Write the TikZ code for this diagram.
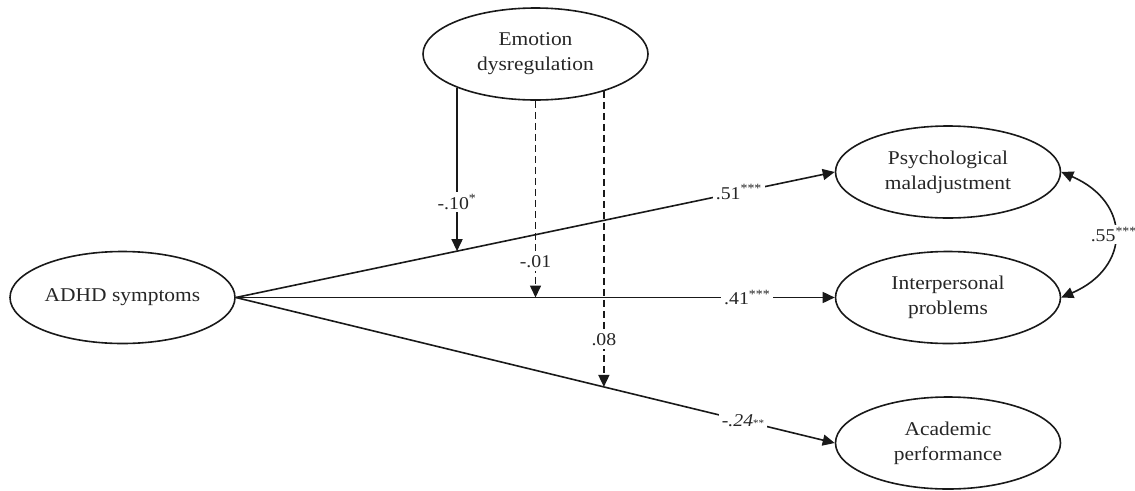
\documentclass[tikz,border=0pt]{standalone}
\usepackage{fontspec}
\setmainfont{Liberation Serif}
\usetikzlibrary{arrows.meta,calc,shapes.geometric}
\newcommand{\sx}[1]{\scalebox{1.1}[1]{#1}}
\begin{document}
\begin{tikzpicture}[x=1pt,y=-1pt,
  var/.style={draw=black!90, ellipse, line width=1.6pt, minimum width=225pt, minimum height=92pt,
    inner sep=0pt, align=center, font=\fontsize{19.5}{25}\selectfont, text=black!85},
  pathA/.style={draw=black!90, line width=1.6pt, -{Triangle[length=12pt,width=11pt]}},
  modA/.style={pathA, dash pattern=on 7pt off 4pt},
  lab/.style={fill=white, inner sep=3pt, text=black!85, font=\fontsize{18}{18}\selectfont}]
\useasboundingbox (0,0) rectangle (1135,490);

\node[var] (emo) at (535.5,54) {\sx{Emotion}\\\sx{dysregulation}};
\node[var] (adhd) at (122.5,297.5) {\sx{ADHD symptoms}};
\node[var] (psy) at (948,172) {\sx{Psychological}\\\sx{maladjustment}};
\node[var] (ip) at (948,297.5) {\sx{Interpersonal}\\\sx{problems}};
\node[var] (ap) at (948,443) {\sx{Academic}\\\sx{performance}};

% direct paths
\draw[pathA] (adhd.east) -- node[lab, pos=0.84] {\sx{.51\textsuperscript{***}}} (psy.west);
\draw[pathA] (adhd.east) -- node[lab, pos=0.854] {\sx{.41\textsuperscript{***}}} (ip.west);
\draw[pathA] (adhd.east) -- node[lab, pos=0.847] {\sx{\textit{-.24}{\fontsize{10}{10}\selectfont **}}} (ap.west);

% moderation
\coordinate (m1) at ($(adhd.east)!0.3694!(psy.west)$);
\coordinate (m2) at (emo.south |- ip.west);
\coordinate (m3) at ($(adhd.east)!0.6146!(ap.west)$);
\draw[pathA] (m1 |- emo.203) -- node[lab, pos=0.70] {\sx{-.10\textsuperscript{*}}} (m1);
\draw[modA] (emo.south) -- node[lab, pos=0.82] {\sx{-.01}} (m2);
\draw[modA] (m3 |- emo.332.5) -- node[lab, pos=0.84] {\sx{.08}} (m3);

% correlation
\draw[draw=black!90, line width=1.6pt, {Triangle[length=12pt,width=11pt]}-{Triangle[length=12pt,width=11pt]}]
  (psy.east) .. controls +(70,30) and +(70,-30) .. node[lab, pos=0.5, inner sep=2pt] {\sx{.55\textsuperscript{***}}} (ip.east);
\end{tikzpicture}
\end{document}
